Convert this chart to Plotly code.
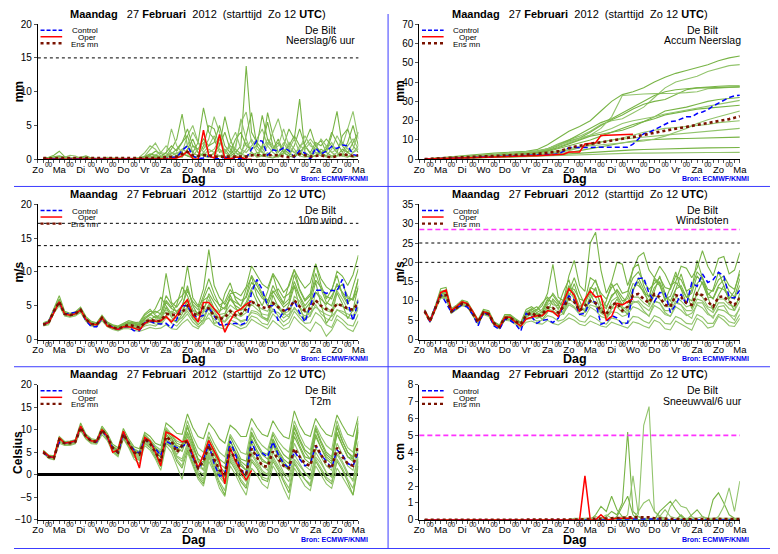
"""EPS pluimen De Bilt, 27 februari 2012 (ECMWF/KNMI) - six panel meteogram."""

import plotly.graph_objects as go

W, H = 778, 554
OFF = 8  # the page body keeps an 8 px margin, so the figure starts at (8, 8)
FONT = "Liberation Sans, Arial, sans-serif"

DAY_LABELS = ["Zo", "Ma", "Di", "Wo", "Do", "Vr", "Za", "Zo",
              "Ma", "Di", "Wo", "Do", "Vr", "Za", "Zo", "Ma"]
MIDNIGHT_LABEL = "00"
TITLE = "<b>Maandag</b>   27 <b>Februari</b>  2012  (starttijd  Zo 12 <b>UTC</b>)"
STATION = "De Bilt"
SOURCE = "Bron: ECMWF/KNMI"

STEP_6H = 0.25   # days
STEP_12H = 0.5

# ---------------------------------------------------------------- neerslag / 6 uur
PRECIP_OPER = [
    0.1, 0.0, 0.0, 0.0, 0.0, 0.0, 0.0, 0.0, 0.0, 0.0,
    0.0, 0.0, 0.0, 0.0, 0.0, 0.0, 0.0, 0.0, 0.0, 0.0,
    0.0, 0.0, 0.0, 0.0, 0.1, 0.2, 0.5, 1.2, 0.1, 0.0,
    4.3, 0.5, 0.2, 3.7, 0.1, 0.1, 0.3, 0.3, 0.0, 0.0]
PRECIP_CONTROL = [
    0.1, 0.1, 0.0, 0.0, 0.0, 0.1, 0.0, 0.0, 0.0, 0.0,
    0.0, 0.0, 0.0, 0.0, 0.0, 0.0, 0.0, 0.0, 0.0, 0.0,
    0.0, 0.0, 0.0, 0.1, 0.3, 0.3, 1.3, 2.0, 0.5, 0.1,
    0.2, 0.5, 0.1, 0.1, 0.3, 0.1, 0.1, 0.2, 0.2, 1.5,
    2.8, 2.7, 0.6, 1.4, 1.2, 1.7, 1.3, 0.3, 1.3, 0.9,
    0.0, 1.7, 0.8, 1.2, 1.9, 1.6, 2.1, 2.0, 0.7, 0.5]
PRECIP_MEAN = [
    0.2, 0.1, 0.1, 0.2, 0.2, 0.1, 0.1, 0.1, 0.1, 0.2,
    0.2, 0.2, 0.1, 0.1, 0.1, 0.2, 0.2, 0.1, 0.1, 0.1,
    0.2, 0.2, 0.2, 0.3, 0.4, 0.4, 0.8, 1.1, 0.6, 0.5,
    0.6, 0.6, 0.4, 0.4, 0.3, 0.4, 0.3, 0.3, 0.4, 0.6,
    0.6, 0.6, 0.5, 0.5, 0.6, 0.4, 0.3, 0.5, 0.8, 0.6,
    0.4, 0.5, 0.6, 0.4, 0.3, 0.5, 0.8, 0.6, 0.5, 0.6]
PRECIP_MEMBERS = [
    [0.2, 0.3, 0.6, 1.2, 0.4, 0.2, 0.1, 0.3, 0.5, 0.2,
     0.1, 0.0, 0.0, 0.1, 0.2, 0.1, 0.0, 0.0, 0.1, 0.3,
     0.6, 1.2, 0.8, 0.5, 1.5, 3.0, 6.7, 2.0, 1.0, 2.5,
     7.6, 4.0, 3.0, 1.0, 1.5, 0.5, 1.0, 2.0, 13.8, 4.0,
     2.5, 1.5, 6.9, 3.5, 1.0, 2.0, 4.5, 3.0, 8.9, 1.0,
     0.5, 2.0, 2.8, 1.0, 3.5, 7.1, 2.0, 1.0, 2.5, 4.0],
    [0.0, 0.1, 0.2, 0.4, 0.3, 0.6, 0.5, 0.2, 0.1, 0.0,
     0.0, 0.1, 0.3, 0.2, 0.1, 0.0, 0.0, 0.1, 0.2, 0.5,
     1.5, 2.4, 1.0, 0.8, 4.5, 2.0, 1.0, 3.5, 5.0, 2.5,
     1.5, 3.0, 6.3, 4.0, 1.0, 0.5, 2.0, 5.5, 7.0, 2.5,
     1.0, 0.5, 2.0, 4.0, 6.0, 3.0, 1.5, 1.0, 0.5, 2.0,
     3.0, 2.0, 1.0, 0.5, 1.5, 3.5, 2.0, 4.5, 7.1, 3.0],
    [0.1, 0.1, 0.1, 0.2, 0.1, 0.0, 0.0, 0.1, 0.1, 0.2,
     0.2, 0.1, 0.0, 0.0, 0.0, 0.1, 0.1, 0.0, 0.0, 0.1,
     0.3, 0.5, 0.3, 0.2, 0.8, 1.5, 2.5, 3.5, 1.0, 0.5,
     2.0, 5.0, 4.5, 2.0, 6.3, 3.0, 1.0, 0.5, 3.5, 6.9,
     2.0, 1.0, 0.5, 1.5, 3.0, 1.0, 0.5, 2.0, 4.5, 2.0,
     1.0, 2.5, 2.0, 3.0, 2.0, 1.0, 3.5, 4.5, 2.0, 1.0],
    [0.1, 0.0, 0.0, 0.1, 0.2, 0.1, 0.1, 0.0, 0.0, 0.0,
     0.1, 0.2, 0.1, 0.0, 0.0, 0.0, 0.1, 0.2, 0.1, 0.0,
     0.1, 0.2, 0.4, 0.3, 0.5, 1.0, 0.8, 0.5, 2.0, 1.0,
     0.5, 1.5, 1.0, 0.5, 0.8, 2.5, 4.0, 1.5, 1.0, 2.0,
     3.0, 4.5, 2.0, 1.0, 0.5, 0.8, 1.5, 3.0, 1.0, 0.5,
     0.5, 1.0, 0.8, 1.5, 2.5, 1.0, 0.5, 1.0, 1.5, 4.0],
    [0.1, 0.2, 0.1, 0.1, 0.0, 0.0, 0.2, 0.3, 0.2, 0.1,
     0.0, 0.0, 0.1, 0.1, 0.0, 0.0, 0.0, 0.0, 0.1, 0.2,
     0.5, 0.3, 0.1, 0.5, 1.0, 0.5, 0.3, 1.5, 3.0, 1.0,
     0.5, 0.3, 1.0, 2.0, 4.0, 1.5, 0.5, 0.2, 0.5, 1.0,
     0.5, 2.0, 5.5, 2.0, 0.5, 1.0, 0.5, 0.3, 1.0, 2.0,
     0.8, 0.5, 1.5, 1.0, 0.5, 0.5, 1.5, 1.0, 0.5, 0.5],
    [0.1, 0.1, 0.2, 0.3, 0.1, 0.1, 0.0, 0.0, 0.1, 0.1,
     0.0, 0.0, 0.0, 0.1, 0.1, 0.2, 0.1, 0.0, 0.0, 0.0,
     0.2, 0.1, 0.3, 0.6, 0.4, 0.2, 0.8, 0.5, 0.3, 0.2,
     1.0, 0.5, 0.8, 1.5, 0.5, 0.3, 0.5, 1.0, 2.5, 1.0,
     0.3, 0.5, 1.0, 0.5, 0.3, 0.8, 2.5, 1.5, 0.5, 0.3,
     0.5, 1.5, 0.8, 0.3, 0.5, 1.0, 0.5, 0.3, 1.0, 2.0],
    [0.0, 0.0, 0.1, 0.1, 0.0, 0.0, 0.0, 0.1, 0.0, 0.0,
     0.0, 0.0, 0.0, 0.0, 0.0, 0.0, 0.0, 0.0, 0.0, 0.0,
     0.0, 0.0, 0.1, 0.2, 0.2, 0.5, 1.0, 0.5, 0.2, 0.5,
     0.8, 0.5, 0.2, 0.5, 0.3, 0.8, 1.5, 0.8, 0.5, 0.5,
     1.0, 0.5, 0.3, 0.2, 0.5, 1.5, 0.8, 0.5, 1.0, 0.5,
     0.3, 0.5, 1.0, 0.5, 0.3, 0.5, 0.8, 0.5, 0.3, 0.5],
    [0.2, 0.1, 0.1, 0.1, 0.2, 0.2, 0.1, 0.1, 0.1, 0.1,
     0.2, 0.1, 0.1, 0.1, 0.0, 0.1, 0.1, 0.1, 0.1, 0.1,
     0.3, 0.6, 1.0, 2.0, 1.0, 0.5, 1.5, 2.0, 4.0, 2.5,
     1.0, 2.0, 3.5, 1.5, 1.0, 2.0, 1.5, 6.0, 3.0, 1.0,
     0.5, 1.5, 3.0, 2.0, 1.0, 2.5, 1.0, 0.5, 2.0, 1.5,
     2.5, 1.0, 0.5, 2.0, 1.0, 0.5, 0.5, 2.0, 3.0, 1.5],
    [0.1, 0.2, 0.3, 0.5, 0.3, 0.2, 0.1, 0.1, 0.2, 0.1,
     0.0, 0.1, 0.1, 0.0, 0.1, 0.1, 0.1, 0.0, 0.1, 0.4,
     0.8, 0.6, 0.4, 1.0, 2.0, 1.2, 2.5, 4.5, 2.0, 1.5,
     3.0, 2.0, 2.5, 5.0, 2.0, 1.0, 3.0, 4.0, 2.0, 1.5,
     2.0, 6.5, 3.0, 1.5, 2.5, 1.0, 2.0, 3.5, 2.0, 2.5,
     4.5, 2.0, 1.0, 1.5, 4.0, 2.5, 1.0, 2.5, 5.0, 2.0],
    [0.1, 0.1, 0.2, 0.2, 0.1, 0.3, 0.2, 0.1, 0.0, 0.1,
     0.1, 0.0, 0.0, 0.2, 0.1, 0.0, 0.0, 0.1, 0.3, 1.0,
     2.0, 1.5, 0.5, 0.3, 1.0, 0.8, 1.5, 1.0, 0.5, 1.5,
     2.5, 1.0, 1.5, 3.0, 1.0, 2.0, 1.0, 0.5, 1.5, 3.0,
     1.5, 1.0, 2.5, 1.5, 2.0, 4.5, 2.0, 1.0, 1.5, 3.5,
     2.0, 1.5, 3.0, 2.0, 1.0, 1.5, 2.5, 1.5, 1.0, 1.5],
]
PRECIP_DOTTED = [15]

# ---------------------------------------------------------------- accumulated
ACCUM_OPER = [
    0.1, 0.2, 0.3, 0.4, 0.5, 0.6, 0.7, 0.8, 0.9, 1.0,
    1.0, 1.1, 1.2, 1.3, 1.4, 1.5, 1.5, 1.6, 1.6, 1.7,
    1.8, 1.8, 1.9, 2.0, 2.1, 2.3, 2.6, 3.8, 3.8, 3.8,
    7.9, 8.4, 8.6, 12.3, 12.4, 12.5, 12.8, 13.0, 13.0, 13.0]
ACCUM_CONTROL = [
    0.1, 0.2, 0.3, 0.4, 0.5, 0.6, 0.7, 0.8, 0.9, 1.0,
    1.1, 1.2, 1.3, 1.4, 1.5, 1.5, 1.6, 1.7, 1.8, 1.9,
    2.0, 2.0, 2.1, 2.2, 2.5, 2.8, 4.1, 6.1, 6.1, 6.2,
    6.2, 6.3, 6.3, 6.3, 6.3, 6.3, 6.3, 6.3, 6.3, 7.8,
    10.6, 13.3, 13.9, 15.3, 16.5, 18.2, 19.5, 19.8, 21.1, 22.0,
    22.0, 23.7, 24.5, 25.7, 27.6, 29.2, 30.8, 32.0, 32.8, 33.2]
ACCUM_MEAN = [
    0.1, 0.3, 0.4, 0.6, 0.7, 0.8, 0.9, 1.0, 1.2, 1.3,
    1.4, 1.5, 1.6, 1.7, 1.8, 1.9, 2.1, 2.2, 2.3, 2.4,
    2.6, 2.8, 3.0, 3.3, 3.7, 4.1, 4.9, 6.0, 6.5, 7.0,
    7.6, 8.1, 8.5, 8.8, 9.2, 9.6, 10.0, 10.5, 11.0, 11.5,
    12.1, 12.7, 13.2, 13.8, 14.3, 14.8, 15.3, 15.8, 16.3, 16.7,
    17.1, 17.5, 18.0, 18.5, 19.0, 19.6, 20.2, 20.8, 21.5, 22.3]
ACCUM_MEMBERS = [  # 12-hourly
    [0.4, 0.9, 1.4, 1.9, 2.4, 2.8, 3.2, 3.5, 3.8, 4.2,
     5.0, 7.5, 11.0, 14.5, 17.0, 20.0, 25.0, 30.0, 33.5, 35.0,
     37.0, 40.0, 42.5, 44.5, 46.0, 47.5, 49.0, 51.0, 52.5, 53.5],
    [0.3, 0.7, 1.1, 1.6, 2.0, 2.4, 2.7, 3.0, 3.3, 3.8,
     4.5, 5.5, 8.0, 10.0, 12.0, 14.5, 18.0, 20.0, 21.0, 24.0,
     27.0, 32.0, 37.0, 40.0, 41.5, 43.0, 45.5, 47.0, 48.5, 49.0],
    [0.2, 0.5, 0.8, 1.2, 1.5, 1.8, 2.1, 2.4, 2.8, 3.2,
     3.8, 5.0, 7.0, 9.5, 11.0, 14.0, 17.5, 20.5, 23.0, 26.0,
     28.5, 30.0, 31.0, 33.5, 36.0, 37.0, 37.5, 37.8, 38.0, 38.0],
    [0.3, 0.6, 0.9, 1.2, 1.6, 2.0, 2.3, 2.6, 2.9, 3.2,
     3.5, 4.5, 6.5, 8.5, 10.5, 12.5, 16.0, 22.0, 33.0, 33.5,
     33.8, 34.0, 34.0, 34.2, 34.5, 35.0, 36.5, 37.0, 37.2, 37.5],
    [0.2, 0.4, 0.7, 1.0, 1.3, 1.6, 1.9, 2.2, 2.5, 2.8,
     3.2, 4.0, 5.5, 7.0, 8.5, 10.0, 12.0, 14.0, 16.0, 18.0,
     19.5, 21.0, 23.0, 24.0, 25.0, 26.0, 26.5, 27.0, 27.5, 28.0],
    [0.1, 0.3, 0.5, 0.8, 1.0, 1.2, 1.4, 1.6, 1.8, 2.0,
     2.4, 3.0, 4.0, 5.0, 6.0, 7.5, 9.0, 10.0, 11.0, 12.5,
     14.0, 15.0, 16.0, 16.5, 17.0, 17.5, 18.0, 19.0, 19.5, 20.0],
    [0.1, 0.2, 0.4, 0.6, 0.8, 1.0, 1.2, 1.4, 1.6, 1.8,
     2.0, 2.5, 3.0, 3.5, 4.5, 5.5, 6.5, 7.5, 8.5, 9.5,
     10.0, 10.3, 10.5, 10.7, 10.8, 10.9, 11.0, 11.0, 11.2, 11.5],
    [0.1, 0.2, 0.3, 0.4, 0.5, 0.6, 0.8, 1.0, 1.2, 1.4,
     1.6, 1.8, 2.0, 2.3, 2.5, 2.7, 2.9, 3.0, 3.1, 3.2,
     3.2, 3.3, 3.3, 3.4, 3.4, 3.5, 3.5, 3.5, 3.6, 3.6],
    [0.2, 0.5, 0.8, 1.1, 1.4, 1.7, 2.0, 2.3, 2.6, 3.0,
     3.5, 4.5, 6.0, 8.0, 10.0, 12.0, 13.0, 14.0, 15.0, 17.0,
     19.5, 22.0, 25.0, 26.0, 27.0, 28.5, 30.0, 31.0, 31.5, 32.0],
    [0.2, 0.4, 0.6, 0.9, 1.2, 1.5, 1.7, 2.0, 2.2, 2.5,
     2.8, 3.5, 4.5, 5.5, 6.5, 7.0, 7.5, 8.0, 8.5, 9.0,
     9.5, 10.5, 12.0, 14.0, 16.0, 18.5, 20.5, 22.0, 23.5, 25.0],
    [0.2, 0.5, 0.9, 1.3, 1.7, 2.1, 2.4, 2.7, 3.0, 3.4,
     4.0, 5.5, 7.5, 10.0, 13.0, 16.0, 19.0, 21.0, 24.0, 27.0,
     30.0, 33.0, 35.0, 36.0, 36.5, 37.0, 37.0, 37.2, 37.4, 37.5],
    [0.2, 0.4, 0.6, 0.8, 1.0, 1.2, 1.4, 1.6, 1.8, 2.0,
     2.3, 2.8, 3.5, 4.5, 6.0, 7.5, 9.0, 10.0, 10.5, 11.0,
     11.5, 12.0, 12.5, 13.0, 13.5, 14.0, 14.5, 15.0, 15.5, 16.0],
    [0.1, 0.2, 0.3, 0.5, 0.6, 0.8, 1.0, 1.2, 1.4, 1.6,
     1.8, 2.0, 2.4, 2.8, 3.2, 3.6, 4.0, 4.3, 4.6, 4.9,
     5.1, 5.3, 5.5, 5.6, 5.7, 5.8, 5.9, 6.0, 6.0, 6.1],
    [0.3, 0.6, 1.0, 1.4, 1.8, 2.2, 2.5, 2.8, 3.1, 3.5,
     4.2, 5.5, 7.5, 9.0, 11.0, 12.5, 14.0, 16.0, 18.5, 20.0,
     21.0, 22.0, 23.5, 24.5, 25.5, 26.5, 27.5, 28.5, 29.5, 30.5],
]

# ---------------------------------------------------------------- 10 m wind
WIND_OPER = [
    2.3, 2.5, 4.0, 5.6, 3.8, 3.6, 3.8, 4.4, 3.0, 2.3,
    2.2, 3.3, 2.0, 1.8, 1.5, 1.9, 1.9, 1.7, 1.4, 2.4,
    2.8, 2.7, 2.8, 3.4, 2.6, 3.6, 5.0, 5.9, 3.6, 2.6,
    5.5, 5.5, 4.6, 3.6, 1.1, 2.8, 4.1, 4.5, 5.2, 5.7]
WIND_CONTROL = [
    2.2, 2.6, 4.2, 5.5, 3.8, 3.9, 4.0, 4.4, 2.8, 1.9,
    1.9, 3.2, 2.3, 1.8, 1.5, 1.9, 1.9, 1.3, 1.3, 2.5,
    2.7, 2.4, 2.3, 2.4, 1.7, 3.0, 5.0, 5.0, 3.6, 3.3,
    3.6, 4.8, 3.6, 2.2, 2.2, 2.3, 2.4, 2.2, 2.5, 7.0,
    8.9, 7.4, 5.0, 5.0, 2.8, 4.2, 4.6, 5.7, 4.0, 2.6,
    5.0, 7.3, 7.3, 6.8, 7.3, 7.2, 8.9, 5.5, 2.8, 5.8]
WIND_MEAN = [
    2.2, 2.5, 4.2, 5.6, 3.8, 3.6, 3.8, 4.4, 3.0, 2.3,
    2.2, 3.2, 2.2, 1.8, 1.6, 1.9, 2.2, 2.0, 1.8, 2.5,
    3.0, 2.7, 2.8, 3.8, 3.7, 3.6, 4.0, 5.0, 3.8, 3.6,
    4.8, 4.6, 3.5, 3.0, 3.3, 4.2, 3.6, 3.8, 4.5, 5.6,
    5.2, 4.8, 4.6, 5.4, 4.8, 4.3, 4.5, 5.8, 4.9, 4.3,
    4.6, 5.8, 5.0, 4.5, 4.3, 5.3, 5.0, 4.6, 4.4, 5.5]
WIND_MEMBERS = [
    [2.5, 2.8, 4.6, 6.5, 4.2, 3.9, 4.1, 4.8, 3.4, 2.7,
     2.5, 3.6, 2.6, 2.2, 2.0, 2.4, 2.8, 2.6, 2.4, 3.6,
     4.2, 3.9, 4.5, 9.8, 5.5, 4.8, 6.0, 10.9, 6.2, 5.0,
     7.5, 13.3, 8.0, 6.2, 5.2, 6.8, 7.0, 6.5, 7.8, 10.9,
     9.5, 8.2, 7.6, 9.8, 8.5, 7.0, 7.9, 10.3, 8.8, 7.6,
     8.4, 11.2, 9.0, 7.8, 7.2, 10.1, 9.4, 8.0, 9.6, 12.5],
    [2.0, 2.2, 3.9, 5.0, 3.5, 3.3, 3.5, 4.0, 2.7, 2.0,
     1.9, 2.8, 1.9, 1.5, 1.3, 1.6, 1.6, 1.4, 1.2, 1.5,
     1.8, 1.6, 1.7, 2.2, 1.6, 1.5, 2.4, 3.0, 2.0, 1.6,
     2.8, 3.2, 2.2, 1.8, 1.5, 2.4, 2.0, 1.6, 1.9, 3.0,
     2.5, 2.0, 1.6, 2.8, 2.2, 1.5, 1.8, 3.4, 2.5, 1.8,
     1.2, 2.6, 2.0, 0.5, 1.4, 3.0, 2.4, 1.6, 1.2, 2.8],
    [2.3, 2.6, 4.3, 5.8, 3.9, 3.7, 3.9, 4.5, 3.1, 2.4,
     2.3, 3.3, 2.4, 2.0, 1.9, 2.3, 2.6, 2.5, 2.6, 3.8,
     4.5, 3.6, 3.2, 5.5, 4.6, 4.2, 5.0, 7.2, 5.6, 4.8,
     6.0, 7.8, 6.0, 5.1, 5.6, 7.4, 6.3, 5.8, 6.2, 8.5,
     7.2, 6.1, 5.5, 8.0, 6.4, 5.2, 6.0, 9.6, 7.3, 5.7,
     6.5, 8.8, 7.7, 6.4, 6.0, 8.3, 7.0, 6.1, 5.9, 7.6],
    [2.1, 2.4, 4.1, 5.4, 3.7, 3.5, 3.7, 4.2, 2.9, 2.2,
     2.1, 3.0, 2.1, 1.7, 1.5, 1.8, 2.0, 1.8, 1.6, 2.2,
     2.6, 2.3, 2.2, 3.2, 2.9, 2.6, 3.3, 4.2, 3.1, 2.6,
     3.5, 4.5, 3.6, 2.8, 2.6, 3.5, 3.2, 2.8, 3.0, 4.0,
     3.8, 3.2, 2.8, 4.6, 3.5, 2.6, 3.2, 4.8, 3.6, 3.0,
     3.5, 5.2, 3.8, 3.1, 2.8, 4.4, 3.9, 3.3, 3.0, 4.6],
    [2.2, 2.5, 4.2, 5.7, 3.8, 3.6, 3.8, 4.3, 3.0, 2.3,
     2.2, 3.1, 2.3, 1.9, 1.7, 2.1, 2.4, 2.3, 2.2, 3.1,
     3.6, 4.6, 6.3, 5.0, 3.8, 5.2, 7.8, 6.5, 4.4, 3.9,
     5.8, 6.4, 4.6, 4.0, 6.8, 8.4, 5.9, 4.9, 7.5, 9.3,
     6.4, 5.0, 7.1, 9.6, 6.8, 5.4, 8.2, 10.4, 7.5, 5.9,
     6.8, 11.2, 8.1, 6.0, 7.4, 9.5, 6.6, 5.2, 7.8, 10.5],
    [2.2, 2.4, 4.0, 5.5, 3.8, 3.5, 3.7, 4.4, 3.0, 2.3,
     2.1, 3.3, 2.1, 1.7, 1.6, 1.8, 2.1, 1.9, 1.7, 2.8,
     3.3, 2.8, 3.5, 4.4, 3.9, 3.2, 4.4, 5.6, 4.2, 3.6,
     4.6, 5.9, 4.5, 3.7, 3.9, 5.1, 4.5, 4.3, 4.8, 5.8,
     5.0, 4.5, 4.2, 5.5, 4.6, 3.8, 4.2, 5.9, 4.8, 4.0,
     4.5, 5.8, 4.9, 4.3, 4.0, 5.3, 4.9, 4.4, 4.2, 5.6],
    [2.3, 2.5, 4.3, 5.6, 3.9, 3.6, 3.9, 4.4, 3.0, 2.4,
     2.3, 3.2, 2.3, 1.8, 1.7, 2.0, 2.3, 2.1, 2.0, 2.7,
     2.9, 3.5, 3.0, 4.8, 3.3, 2.5, 3.8, 6.0, 3.1, 2.2,
     3.0, 4.8, 2.4, 2.6, 3.6, 6.6, 4.8, 3.4, 4.9, 7.3,
     5.6, 3.4, 3.0, 6.6, 4.8, 3.6, 5.2, 7.9, 4.8, 2.9,
     5.4, 8.5, 5.2, 2.4, 3.6, 6.9, 5.3, 3.1, 4.4, 8.0],
    [2.1, 2.5, 4.1, 5.5, 3.7, 3.6, 3.8, 4.5, 3.0, 2.3,
     2.2, 3.1, 2.2, 1.8, 1.6, 1.9, 2.0, 1.8, 1.7, 2.4,
     2.6, 3.0, 3.3, 4.1, 3.5, 3.1, 3.2, 4.6, 3.7, 2.9,
     2.8, 5.1, 4.2, 3.0, 2.7, 4.0, 3.4, 2.6, 2.9, 4.3,
     4.1, 3.4, 2.7, 5.6, 5.1, 4.0, 3.3, 6.4, 5.7, 4.2,
     3.5, 7.0, 6.4, 4.8, 4.1, 7.2, 6.0, 4.5, 4.3, 6.1],
    [2.2, 2.6, 4.4, 6.0, 4.0, 3.7, 3.9, 4.6, 3.2, 2.5,
     2.4, 3.4, 2.5, 2.1, 1.8, 2.2, 2.5, 2.3, 2.1, 3.0,
     3.8, 4.2, 3.8, 6.5, 5.2, 4.0, 4.8, 8.0, 5.0, 3.6,
     4.2, 6.8, 5.5, 4.2, 4.8, 6.0, 5.0, 4.5, 5.5, 7.6,
     8.5, 6.8, 5.8, 7.2, 6.0, 4.8, 5.5, 8.6, 6.5, 5.0,
     6.0, 9.8, 7.5, 5.5, 5.0, 7.4, 8.2, 6.4, 5.8, 9.0],
    [2.1, 2.4, 4.0, 5.3, 3.6, 3.4, 3.6, 4.1, 2.8, 2.1,
     2.0, 2.9, 2.0, 1.6, 1.4, 1.7, 1.8, 1.6, 1.5, 2.0,
     2.2, 2.0, 2.6, 3.6, 2.4, 2.0, 2.9, 3.8, 2.6, 1.9,
     2.4, 3.9, 3.0, 2.2, 2.0, 2.9, 2.6, 2.0, 2.4, 3.5,
     3.2, 2.4, 2.2, 3.8, 3.0, 2.0, 2.5, 4.2, 3.2, 2.4,
     2.5, 4.0, 3.4, 2.2, 1.8, 3.6, 3.0, 2.2, 2.0, 3.8],
    [2.3, 2.7, 4.4, 5.9, 4.0, 3.8, 4.0, 4.6, 3.2, 2.5,
     2.4, 3.4, 2.4, 2.0, 1.8, 2.1, 2.5, 2.4, 2.3, 3.3,
     3.8, 3.2, 3.8, 5.8, 4.8, 5.8, 6.5, 7.5, 5.2, 4.4,
     6.5, 9.0, 6.8, 5.0, 4.5, 6.0, 5.5, 5.0, 6.5, 9.5,
     8.0, 6.5, 5.0, 7.0, 7.5, 6.2, 6.8, 8.0, 6.2, 4.5,
     5.5, 7.0, 6.0, 5.2, 6.5, 8.0, 7.0, 5.5, 6.2, 9.0],
    [2.2, 2.4, 4.1, 5.6, 3.8, 3.6, 3.8, 4.3, 2.9, 2.3,
     2.2, 3.1, 2.2, 1.8, 1.6, 1.9, 2.2, 2.0, 1.8, 2.6,
     3.0, 2.6, 2.4, 3.6, 4.2, 3.8, 4.0, 4.8, 3.4, 3.0,
     4.0, 5.2, 3.8, 3.2, 3.6, 4.5, 3.8, 3.4, 4.0, 5.2,
     4.5, 3.8, 3.6, 4.2, 4.0, 3.2, 3.8, 4.6, 4.0, 3.5,
     4.0, 4.8, 4.2, 3.7, 3.4, 4.4, 4.2, 3.8, 3.6, 4.8],
]
WIND_DOTTED = [10.8, 13.9, 17.2]

# ---------------------------------------------------------------- windstoten
GUST_OPER = [
    7.5, 4.8, 8.0, 12.2, 12.8, 7.5, 8.6, 9.8, 9.3, 7.3,
    4.8, 7.2, 6.8, 4.0, 3.2, 5.8, 5.8, 4.5, 3.5, 5.3,
    5.8, 6.2, 6.2, 7.5, 7.2, 6.0, 9.8, 13.2, 11.5, 7.2,
    10.5, 12.6, 11.0, 11.3, 5.0, 6.0, 9.4, 9.0, 9.8, 10.6]
GUST_CONTROL = [
    7.5, 4.6, 8.5, 11.8, 9.5, 7.0, 8.2, 9.0, 8.4, 6.5,
    3.6, 7.0, 6.4, 3.5, 2.6, 5.3, 5.0, 4.0, 2.2, 6.8,
    6.0, 4.2, 5.0, 5.2, 4.4, 5.5, 9.0, 11.3, 10.2, 6.5,
    6.8, 10.3, 9.6, 4.0, 4.5, 6.2, 5.6, 4.0, 4.3, 13.0,
    15.8, 16.0, 12.0, 9.8, 12.2, 12.0, 7.0, 9.0, 11.8, 9.0,
    14.7, 13.8, 17.0, 14.8, 15.5, 17.4, 16.5, 11.0, 10.8, 12.8]
GUST_MEAN = [
    7.3, 4.8, 8.2, 11.3, 11.5, 7.3, 8.2, 9.3, 9.0, 6.8,
    4.5, 7.0, 6.6, 4.2, 3.3, 5.6, 5.7, 4.7, 4.0, 6.3,
    7.0, 6.0, 6.5, 8.3, 8.2, 7.0, 8.5, 10.5, 9.8, 7.5,
    8.8, 10.0, 9.5, 7.5, 6.5, 9.0, 9.5, 7.5, 8.5, 11.5,
    11.8, 10.5, 9.5, 11.8, 11.0, 9.0, 8.5, 11.5, 11.0, 9.5,
    9.0, 12.0, 11.5, 9.8, 8.5, 11.0, 11.2, 9.8, 9.0, 10.8]
GUST_MEMBERS = [
    [7.8, 5.2, 8.8, 13.2, 13.5, 8.0, 9.0, 10.2, 9.8, 7.6,
     5.2, 7.8, 7.5, 4.6, 3.8, 6.5, 6.5, 5.4, 4.5, 7.8,
     8.5, 7.5, 8.8, 12.0, 19.5, 11.0, 10.0, 16.5, 20.5, 14.0,
     12.5, 25.0, 27.8, 18.0, 12.0, 15.0, 20.0, 19.5, 14.0, 18.0,
     21.5, 22.5, 18.0, 16.0, 19.0, 17.0, 14.0, 15.0, 19.0, 18.5,
     16.0, 18.5, 23.0, 19.0, 16.5, 21.0, 21.5, 17.0, 18.0, 22.5],
    [7.0, 4.4, 7.6, 10.8, 10.5, 6.8, 7.8, 8.8, 8.4, 6.2,
     4.0, 6.5, 6.0, 3.6, 2.8, 5.0, 4.8, 4.0, 3.0, 4.5,
     4.8, 4.2, 4.0, 5.0, 4.2, 3.8, 4.6, 5.6, 5.0, 4.0,
     3.6, 4.8, 4.2, 3.5, 3.2, 4.5, 4.0, 3.4, 3.0, 4.6,
     4.2, 3.5, 3.0, 5.0, 4.4, 2.8, 2.5, 4.8, 4.0, 3.0,
     2.4, 5.5, 4.6, 3.0, 3.4, 6.0, 5.0, 3.6, 3.4, 5.5],
    [7.4, 4.8, 8.3, 11.8, 12.2, 7.5, 8.4, 9.6, 9.2, 7.0,
     4.6, 7.2, 6.8, 4.3, 3.4, 5.8, 5.9, 4.8, 4.2, 6.8,
     7.5, 6.5, 7.2, 10.2, 9.8, 8.0, 10.5, 14.0, 12.0, 8.5,
     9.6, 13.5, 12.8, 9.2, 8.0, 11.5, 12.5, 10.0, 10.6, 14.5,
     14.0, 12.5, 11.0, 15.5, 14.0, 10.5, 11.2, 14.8, 13.2, 11.0,
     12.0, 16.5, 14.5, 11.0, 10.8, 14.0, 15.5, 12.5, 11.0, 15.8],
    [7.2, 4.7, 8.0, 11.0, 11.2, 7.2, 8.1, 9.2, 8.8, 6.6,
     4.3, 6.8, 6.4, 4.0, 3.2, 5.4, 5.5, 4.6, 3.8, 6.0,
     6.4, 5.5, 6.0, 7.5, 7.0, 6.0, 6.8, 9.0, 8.2, 6.5,
     6.0, 8.4, 7.5, 6.0, 5.5, 7.2, 7.0, 6.0, 6.5, 8.5,
     8.0, 7.0, 6.2, 8.8, 8.0, 6.5, 6.0, 8.5, 7.6, 6.2,
     6.8, 9.0, 8.2, 6.5, 6.0, 7.8, 7.5, 6.5, 6.0, 8.0],
    [7.5, 4.9, 8.4, 12.0, 12.0, 7.4, 8.5, 9.5, 9.1, 6.9,
     4.5, 7.1, 6.7, 4.2, 3.3, 5.7, 5.8, 4.7, 4.0, 6.4,
     7.0, 7.8, 9.5, 11.0, 9.0, 8.8, 12.5, 15.5, 10.0, 7.5,
     9.8, 12.0, 9.0, 7.2, 10.0, 14.5, 11.5, 9.0, 11.5, 18.5,
     19.5, 14.0, 11.0, 16.0, 14.5, 10.0, 13.5, 17.5, 13.0, 9.5,
     13.0, 20.5, 16.0, 11.5, 13.0, 17.5, 14.0, 10.5, 12.5, 18.0],
    [7.3, 4.8, 8.2, 11.4, 11.6, 7.3, 8.3, 9.4, 9.0, 6.8,
     4.4, 7.0, 6.6, 4.1, 3.3, 5.6, 5.7, 4.7, 4.0, 6.2,
     6.8, 6.0, 6.5, 8.5, 8.2, 7.0, 8.0, 10.5, 9.5, 7.5,
     8.0, 10.0, 9.2, 7.0, 7.0, 9.0, 9.5, 8.0, 8.5, 11.0,
     11.0, 9.5, 8.5, 11.5, 10.5, 8.5, 8.5, 11.0, 10.0, 8.5,
     9.0, 12.0, 11.0, 8.5, 8.0, 10.5, 10.5, 9.0, 8.5, 11.0],
    [7.1, 4.6, 7.9, 11.2, 11.0, 7.1, 8.0, 9.1, 8.7, 6.5,
     4.2, 6.8, 6.3, 3.9, 3.1, 5.3, 5.2, 4.3, 3.6, 5.5,
     5.8, 6.8, 5.2, 7.0, 10.5, 9.0, 6.5, 11.0, 14.5, 10.0,
     7.0, 10.5, 13.5, 8.5, 5.5, 8.0, 10.5, 8.0, 6.5, 12.5,
     16.0, 13.0, 9.0, 12.5, 16.5, 12.0, 8.5, 13.0, 17.0, 12.5,
     8.0, 12.0, 15.0, 11.0, 7.5, 11.5, 14.0, 10.0, 7.5, 12.0],
    [7.4, 4.9, 8.1, 11.6, 11.8, 7.4, 8.2, 9.3, 9.0, 6.7,
     4.5, 7.0, 6.6, 4.2, 3.4, 5.6, 5.6, 4.6, 4.0, 6.5,
     7.2, 5.8, 6.2, 9.0, 10.0, 7.8, 7.0, 12.0, 11.0, 8.0,
     7.5, 11.5, 11.0, 7.5, 6.5, 10.0, 11.0, 8.5, 7.5, 10.0,
     9.5, 7.5, 6.0, 9.8, 9.5, 7.0, 6.0, 9.5, 9.0, 6.5,
     5.5, 9.5, 9.5, 7.0, 5.5, 8.5, 8.8, 6.5, 5.0, 8.5],
    [7.6, 5.0, 8.5, 12.5, 12.8, 7.7, 8.7, 9.9, 9.5, 7.3,
     4.9, 7.5, 7.1, 4.4, 3.6, 6.1, 6.2, 5.1, 4.3, 7.2,
     8.0, 7.0, 7.8, 10.5, 11.5, 9.5, 9.0, 13.5, 13.0, 10.5,
     10.0, 16.0, 15.0, 12.0, 10.5, 13.5, 14.5, 12.0, 12.5, 16.0,
     17.5, 15.0, 13.0, 14.5, 16.0, 13.5, 13.0, 16.5, 15.5, 12.5,
     13.5, 17.5, 16.0, 13.0, 12.5, 15.5, 16.5, 14.0, 13.0, 17.0],
    [7.2, 4.6, 7.8, 11.0, 10.8, 7.0, 8.0, 9.0, 8.6, 6.4,
     4.2, 6.7, 6.2, 3.8, 3.0, 5.2, 5.0, 4.2, 3.4, 5.2,
     5.5, 4.8, 5.0, 6.2, 5.8, 4.8, 5.2, 6.8, 6.0, 4.8,
     4.5, 6.2, 5.5, 4.4, 4.0, 5.6, 5.2, 4.4, 4.2, 6.0,
     5.8, 4.8, 4.2, 6.2, 5.6, 4.2, 4.0, 6.0, 5.4, 4.2,
     4.0, 6.5, 5.8, 4.2, 4.2, 6.5, 6.0, 4.6, 4.2, 6.5],
    [7.5, 4.8, 8.3, 12.0, 12.5, 7.6, 8.4, 9.7, 9.3, 7.1,
     4.7, 7.3, 6.9, 4.4, 3.5, 5.9, 6.0, 5.0, 4.3, 7.0,
     7.8, 8.5, 7.0, 9.5, 12.0, 10.0, 8.5, 12.5, 16.0, 12.0,
     9.0, 13.0, 15.5, 11.0, 8.5, 11.0, 13.0, 11.0, 9.5, 13.0,
     15.0, 12.0, 10.0, 13.5, 15.0, 11.5, 10.0, 13.0, 14.0, 11.0,
     10.0, 14.5, 16.0, 12.0, 10.5, 13.5, 13.0, 11.0, 10.5, 14.0],
    [7.3, 4.7, 8.1, 11.5, 11.5, 7.3, 8.2, 9.3, 8.9, 6.7,
     4.4, 6.9, 6.5, 4.1, 3.2, 5.5, 5.6, 4.6, 3.9, 6.0,
     6.5, 5.5, 6.8, 8.0, 7.5, 6.5, 7.5, 9.5, 8.5, 6.8,
     7.0, 9.0, 8.5, 6.8, 6.0, 8.0, 8.5, 7.0, 7.5, 9.5,
     10.0, 8.5, 7.5, 10.0, 9.5, 7.5, 7.5, 10.0, 9.0, 7.5,
     7.5, 10.5, 10.0, 8.0, 7.0, 9.5, 9.5, 8.0, 7.5, 10.0],
]
GUST_DOTTED = [20, 25]
GUST_WARNING = [28.5]

# ---------------------------------------------------------------- T2m
T2M_OPER = [
    5.2, 4.2, 3.8, 8.2, 7.0, 7.2, 7.5, 10.8, 8.5, 7.5,
    7.5, 10.0, 8.6, 5.0, 5.5, 9.7, 6.8, 4.8, 1.5, 8.3,
    7.5, 5.0, 2.0, 9.5, 9.0, 8.2, 7.3, 7.7, 4.5, 1.5,
    4.5, 7.6, 5.3, 3.0, -2.0, 6.0, 3.0, 1.0, -1.2, 1.0]
T2M_CONTROL = [
    5.0, 4.0, 3.9, 7.2, 7.0, 7.3, 7.5, 10.6, 8.6, 7.5,
    7.3, 9.8, 8.3, 6.0, 4.8, 9.3, 7.0, 5.5, 4.8, 7.8,
    7.0, 5.8, 4.3, 7.5, 6.8, 6.0, 6.2, 7.2, 4.0, 1.2,
    3.5, 6.8, 2.5, -0.3, 0.0, 7.5, 4.5, 1.0, 0.0, 7.5,
    4.2, 4.8, 4.0, 7.3, 4.5, 2.5, 1.5, 5.2, 3.5, 2.0,
    2.5, 6.5, 4.5, 3.0, 1.5, 5.5, 4.5, 2.5, 2.0, 5.0]
T2M_MEAN = [
    5.0, 4.0, 3.7, 7.8, 7.0, 7.0, 7.3, 10.5, 8.5, 7.5,
    7.3, 10.0, 8.5, 6.0, 5.0, 9.0, 7.0, 5.0, 4.5, 8.0,
    7.0, 5.0, 3.0, 8.5, 7.5, 5.0, 6.5, 7.5, 4.0, 1.5,
    3.0, 6.5, 3.5, 1.0, 0.2, 5.5, 3.5, 1.0, 0.3, 5.8,
    4.0, 2.0, 1.8, 5.2, 3.5, 2.0, 1.5, 5.8, 4.0, 2.5,
    2.0, 6.5, 4.5, 2.5, 1.5, 6.0, 4.0, 2.5, 2.0, 6.5]
T2M_MEMBERS = [
    [5.5, 4.4, 4.2, 8.5, 7.4, 7.5, 7.8, 11.5, 9.0, 8.0,
     7.8, 10.8, 9.2, 6.8, 6.0, 10.3, 8.0, 6.2, 5.8, 9.4,
     8.5, 7.0, 6.5, 11.5, 10.5, 9.2, 9.0, 13.5, 10.5, 8.5,
     8.0, 11.5, 10.0, 8.0, 7.0, 11.0, 10.0, 8.5, 8.5, 12.5,
     10.5, 9.0, 8.5, 12.0, 10.0, 8.5, 8.0, 14.2, 11.0, 9.0,
     8.5, 12.5, 10.5, 9.0, 8.5, 13.3, 11.0, 9.0, 8.5, 13.0],
    [4.8, 3.6, 3.3, 7.0, 6.5, 6.5, 6.9, 9.8, 7.9, 6.9,
     6.8, 8.9, 7.6, 5.0, 4.0, 8.0, 6.0, 3.5, 2.5, 6.5,
     5.5, 3.5, 1.0, 6.5, 5.0, 2.0, -1.0, 5.0, 2.0, -1.0,
     -2.5, 3.0, 0.5, -3.0, -4.8, 2.0, 0.0, -2.5, -4.5, 1.5,
     0.0, -2.0, -3.0, 2.0, 0.0, -3.0, -5.5, 1.5, -0.5, -2.5,
     -3.5, 2.0, 0.0, -2.0, -3.0, 1.5, -0.5, -2.5, -4.5, 2.0],
    [5.2, 4.1, 3.9, 8.0, 7.1, 7.2, 7.5, 10.8, 8.6, 7.6,
     7.4, 10.2, 8.6, 6.2, 5.2, 9.4, 7.3, 5.3, 4.8, 8.5,
     7.2, 5.8, 4.5, 9.6, 8.3, 6.0, 5.2, 8.5, 6.0, 3.5,
     2.8, 7.8, 5.0, 2.5, 1.5, 7.5, 5.0, 3.0, 2.0, 7.0,
     5.0, 3.0, 2.5, 8.0, 5.5, 3.5, 2.5, 9.5, 6.5, 4.0,
     3.5, 8.5, 6.0, 4.0, 3.0, 9.0, 6.5, 4.0, 3.5, 9.5],
    [5.0, 3.9, 3.6, 7.6, 6.8, 6.9, 7.2, 10.3, 8.3, 7.3,
     7.1, 9.7, 8.2, 5.6, 4.6, 8.6, 6.6, 4.4, 3.8, 7.5,
     6.5, 4.5, 2.5, 7.5, 6.5, 4.0, 3.0, 6.0, 3.0, 0.5,
     -1.0, 4.5, 2.0, -0.5, -2.0, 4.0, 2.0, 0.0, -1.5, 4.5,
     2.5, 0.5, 0.0, 4.0, 2.0, 0.0, -1.5, 3.5, 2.0, 0.5,
     -0.5, 4.0, 2.5, 0.5, -0.5, 4.5, 2.5, 0.0, -1.0, 4.0],
    [5.1, 4.0, 3.8, 7.9, 7.0, 7.1, 7.4, 10.6, 8.5, 7.5,
     7.3, 10.0, 8.4, 6.0, 5.0, 9.0, 7.0, 5.0, 4.5, 8.0,
     7.0, 5.2, 3.8, 8.7, 7.5, 5.5, 6.5, 11.0, 7.0, 3.0,
     1.0, 6.0, 3.5, 1.0, -0.5, 6.5, 4.5, 2.0, 1.0, 9.0,
     6.5, 4.5, 3.5, 7.5, 5.0, 3.0, 1.5, 10.5, 7.5, 5.0,
     3.5, 10.0, 7.0, 4.5, 3.5, 11.0, 7.5, 5.0, 3.5, 10.5],
    [5.3, 4.2, 4.0, 8.2, 7.2, 7.3, 7.6, 11.0, 8.8, 7.7,
     7.5, 10.4, 8.8, 6.4, 5.6, 9.8, 7.6, 5.8, 5.2, 9.0,
     7.8, 6.4, 5.5, 10.5, 9.0, 7.5, 7.0, 12.0, 8.5, 6.0,
     5.0, 9.5, 7.0, 5.0, 4.0, 9.0, 7.0, 5.0, 4.5, 10.5,
     8.0, 6.5, 5.5, 9.5, 7.5, 6.0, 5.0, 12.0, 9.0, 6.5,
     5.5, 11.0, 8.5, 6.5, 5.5, 12.0, 8.5, 6.0, 5.0, 11.5],
    [4.9, 3.8, 3.5, 7.4, 6.7, 6.8, 7.1, 10.0, 8.1, 7.1,
     7.0, 9.4, 7.9, 5.3, 4.3, 8.3, 6.3, 4.0, 3.2, 7.0,
     6.0, 4.0, 1.8, 7.0, 6.0, 3.0, 1.5, 5.5, 2.5, -0.5,
     -2.0, 4.0, 1.0, -2.0, -4.5, 3.0, 1.0, -1.5, -3.0, 3.0,
     1.5, -1.0, -1.5, 3.0, 1.0, -1.5, -4.0, 2.5, 0.5, -1.0,
     -2.5, 3.0, 1.0, -1.0, -2.0, 3.0, 1.0, -1.5, -4.5, 3.0],
    [5.2, 4.0, 3.7, 7.8, 7.0, 7.0, 7.3, 10.5, 8.4, 7.4,
     7.2, 9.9, 8.3, 5.9, 4.9, 8.8, 6.9, 4.8, 4.3, 7.9,
     7.0, 5.0, 3.0, 8.0, 7.0, 4.5, 6.0, 9.0, 5.5, 2.0,
     1.0, 6.0, 3.0, 0.5, -1.0, 5.0, 3.0, 1.0, 0.0, 6.0,
     4.0, 2.0, 1.0, 6.5, 4.0, 2.0, 1.0, 7.0, 4.5, 2.0,
     1.0, 6.0, 4.0, 2.0, 1.0, 7.0, 4.5, 2.0, 1.0, 7.5],
    [5.1, 4.1, 3.9, 8.1, 7.1, 7.2, 7.5, 10.7, 8.6, 7.6,
     7.4, 10.1, 8.5, 6.1, 5.1, 9.2, 7.2, 5.2, 4.7, 8.2,
     7.2, 5.4, 4.0, 9.0, 8.0, 6.5, 6.0, 9.5, 6.5, 3.5,
     2.0, 7.0, 4.5, 2.0, 0.5, 7.5, 5.0, 2.5, 1.0, 8.0,
     5.5, 3.5, 2.5, 7.0, 4.5, 2.5, 1.0, 8.5, 6.0, 3.5,
     2.5, 9.0, 6.0, 3.5, 2.5, 9.5, 6.5, 4.0, 3.0, 10.0],
    [5.0, 3.9, 3.6, 7.5, 6.9, 6.9, 7.2, 10.2, 8.3, 7.3,
     7.1, 9.6, 8.1, 5.7, 4.7, 8.7, 6.7, 4.6, 4.0, 7.6,
     6.6, 4.8, 2.8, 7.8, 6.8, 4.2, 3.5, 7.0, 4.0, 1.0,
     0.0, 5.0, 2.5, 0.0, -1.5, 4.5, 2.5, 0.5, -0.5, 5.0,
     3.0, 1.0, 0.0, 5.0, 3.0, 0.5, -0.5, 4.5, 2.5, 0.5,
     -1.0, 5.0, 3.0, 0.5, -0.5, 5.0, 3.0, 0.5, -1.5, 5.5],
    [5.3, 4.2, 3.9, 8.2, 7.2, 7.3, 7.6, 10.9, 8.7, 7.7,
     7.5, 10.3, 8.7, 6.3, 5.4, 9.6, 7.4, 5.6, 5.0, 8.8,
     7.6, 6.0, 5.0, 10.0, 8.8, 7.0, 6.5, 10.5, 7.5, 4.5,
     3.5, 8.5, 6.0, 3.5, 2.5, 8.5, 6.0, 3.5, 3.0, 9.5,
     7.0, 5.0, 4.5, 9.0, 6.5, 4.5, 3.5, 11.0, 8.0, 5.5,
     4.5, 10.5, 7.5, 5.0, 4.0, 10.5, 7.5, 5.0, 4.0, 12.0],
    [4.9, 3.9, 3.6, 7.6, 6.8, 6.8, 7.1, 10.2, 8.2, 7.2,
     7.1, 9.5, 8.0, 5.5, 4.5, 8.5, 6.5, 4.3, 3.5, 7.2,
     6.3, 4.4, 2.2, 7.2, 6.2, 3.5, 2.0, 6.5, 3.5, 0.0,
     -1.5, 4.0, 1.5, -1.5, -3.5, 3.5, 1.5, -1.0, -2.5, 3.5,
     2.0, -0.5, -1.0, 3.5, 1.5, -1.0, -3.0, 3.0, 1.0, -1.0,
     -2.0, 3.5, 1.5, -0.5, -1.5, 3.5, 1.5, -1.0, -3.0, 3.5],
]

# ---------------------------------------------------------------- sneeuwval / 6 uur
SNOW_OPER = [
    0, 0, 0, 0, 0, 0, 0, 0, 0, 0,
    0, 0, 0, 0, 0, 0, 0, 0, 0, 0,
    0, 0, 0, 0, 0, 0, 0, 0, 0, 0,
    2.6, 0, 0, 0.3, 0, 0.05, 0.1, 0.1, 0.1, 0.1]
SNOW_CONTROL = [
    0, 0, 0, 0, 0, 0, 0, 0, 0, 0,
    0, 0, 0, 0, 0, 0, 0, 0, 0, 0,
    0, 0, 0, 0, 0, 0, 0, 0, 0, 0,
    0, 0, 0, 0, 0, 0, 0.05, 0.05, 0.05, 0.05,
    0.05, 0.05, 0.05, 0.05, 0.05, 0, 0, 0, 0, 0,
    0, 0, 0, 0, 0, 0, 0, 0, 0, 0]
SNOW_MEAN = [
    0, 0, 0, 0, 0, 0, 0, 0, 0, 0,
    0, 0, 0, 0, 0, 0, 0, 0, 0, 0,
    0, 0, 0, 0, 0, 0, 0, 0, 0, 0.02,
    0.05, 0.05, 0.05, 0.08, 0.08, 0.1, 0.1, 0.12, 0.15, 0.15,
    0.12, 0.15, 0.15, 0.1, 0.08, 0.06, 0.05, 0.05, 0.04, 0.04,
    0.05, 0.05, 0.04, 0.04, 0.05, 0.06, 0.05, 0.05, 0.05, 0.05]
SNOW_MEMBERS = [
    [0, 0, 0, 0, 0, 0, 0, 0, 0, 0,
     0, 0, 0, 0, 0, 0, 0, 0, 0, 0,
     0, 0, 0, 0, 0, 0, 0, 0, 0, 0,
     0, 0, 0, 0, 0.2, 0.5, 0.3, 1.0, 5.2, 0.5,
     0.2, 0, 0, 0, 0, 0, 0, 0, 0.3, 0,
     0, 0, 0, 0, 0, 0, 0, 0, 0, 0],
    [0, 0, 0, 0, 0, 0, 0, 0, 0, 0,
     0, 0, 0, 0, 0, 0, 0, 0, 0, 0,
     0, 0, 0, 0, 0, 0, 0, 0, 0, 0,
     0, 0, 0, 0, 0, 0, 0, 0, 0.3, 2.6,
     0.3, 5.6, 6.7, 0.5, 0.2, 0.1, 0, 0, 0, 0,
     0, 0, 0, 0, 0, 0, 0, 0, 0, 0],
    [0, 0, 0, 0, 0, 0, 0, 0, 0, 0,
     0, 0, 0, 0, 0, 0, 0, 0, 0, 0,
     0, 0, 0, 0, 0, 0, 0, 0, 0, 0,
     0, 0, 0.3, 0.8, 0.5, 1.4, 0.6, 0.2, 0, 0,
     0, 0, 0, 0, 0, 0, 0, 0, 0, 0,
     0, 0, 0, 0, 0, 0, 0, 0, 0, 0],
    [0, 0, 0, 0, 0, 0, 0, 0, 0, 0,
     0, 0, 0, 0, 0, 0, 0, 0, 0, 0,
     0, 0, 0, 0, 0, 0, 0, 0, 0, 0,
     0, 0, 0, 0, 0, 0, 0, 0, 0, 0,
     0.5, 1.0, 1.2, 0.5, 0.2, 0, 0.8, 1.2, 0.8, 0.7,
     0.2, 0, 0, 0, 0, 0, 0, 0, 0, 0],
    [0, 0, 0, 0, 0, 0, 0, 0, 0, 0,
     0, 0, 0, 0, 0, 0, 0, 0, 0, 0,
     0, 0, 0, 0, 0, 0, 0, 0, 0, 0,
     0, 0, 0, 0, 0, 0, 0, 0, 0, 0,
     0, 0, 0, 0, 0, 0, 0, 0, 0, 0,
     0.3, 0.6, 0.2, 0, 1.2, 1.6, 1.0, 0.3, 0.1, 0],
    [0, 0, 0, 0, 0, 0, 0, 0, 0, 0,
     0, 0, 0, 0, 0, 0, 0, 0, 0, 0,
     0, 0, 0, 0, 0, 0, 0, 0, 0, 0,
     0, 0, 0, 0, 0, 0, 0, 0, 0, 0,
     0, 0, 0, 0, 0, 0, 0, 0, 0, 0,
     0, 0, 0, 0, 0, 0.2, 0.8, 1.9, 0.5, 2.3],
    [0, 0, 0, 0, 0, 0, 0, 0, 0, 0,
     0, 0, 0, 0, 0, 0, 0, 0, 0, 0,
     0, 0, 0, 0, 0, 0, 0, 0, 0, 0,
     0, 0, 0, 0, 0, 0, 0.2, 0.8, 1.4, 0.3,
     0, 0, 0, 0, 0.5, 0.8, 1.1, 0.6, 0.2, 0,
     0, 0, 0, 0, 0, 0, 0, 0, 0, 0],
    [0, 0, 0, 0, 0, 0, 0, 0, 0, 0,
     0, 0, 0, 0, 0, 0, 0, 0, 0, 0,
     0, 0, 0, 0, 0, 0, 0, 0, 0.1, 0.1,
     0.1, 0.1, 0.2, 0.1, 0.3, 0.1, 0.1, 0.2, 0.1, 0.1,
     0.2, 0.1, 0.1, 0.1, 0.2, 0.6, 0.2, 0.1, 0.1, 0.1,
     0.1, 0.1, 0.2, 0.1, 0.1, 0.1, 0.1, 0.1, 0.1, 0.1],
]
SNOW_WARNING = [5]

PANELS = [
    dict(label="Neerslag/6 uur", ytitle="mm", yrange=[0, 20], dtick=5,
         members=PRECIP_MEMBERS, mstep=STEP_6H, control=PRECIP_CONTROL,
         oper=PRECIP_OPER, mean=PRECIP_MEAN, dotted=PRECIP_DOTTED, warn=[]),
    dict(label="Accum Neerslag", ytitle="mm", yrange=[0, 70], dtick=10,
         members=ACCUM_MEMBERS, mstep=STEP_12H, control=ACCUM_CONTROL,
         oper=ACCUM_OPER, mean=ACCUM_MEAN, dotted=[], warn=[]),
    dict(label="10m wind", ytitle="m/s", yrange=[0, 20], dtick=5,
         members=WIND_MEMBERS, mstep=STEP_6H, control=WIND_CONTROL,
         oper=WIND_OPER, mean=WIND_MEAN, dotted=WIND_DOTTED, warn=[]),
    dict(label="Windstoten", ytitle="m/s", yrange=[0, 35], dtick=5,
         members=GUST_MEMBERS, mstep=STEP_6H, control=GUST_CONTROL,
         oper=GUST_OPER, mean=GUST_MEAN, dotted=GUST_DOTTED, warn=GUST_WARNING),
    dict(label="T2m", ytitle="Celsius", yrange=[-10, 20], dtick=5,
         members=T2M_MEMBERS, mstep=STEP_6H, control=T2M_CONTROL,
         oper=T2M_OPER, mean=T2M_MEAN, dotted=[], warn=[], zero=True),
    dict(label="Sneeuwval/6 uur", ytitle="cm", yrange=[0, 8], dtick=1,
         members=SNOW_MEMBERS, mstep=STEP_6H, control=SNOW_CONTROL,
         oper=SNOW_OPER, mean=SNOW_MEAN, dotted=[], warn=SNOW_WARNING),
]

MEMBER_COLORS = ["#78b446", "#92c46c"]
CONTROL_COLOR = "#0000ff"
OPER_COLOR = "#ff0000"
MEAN_COLOR = "#7a1200"
FRAME_COLOR = "#3c3cff"

FIG_W, FIG_H = W - OFF, H - OFF


def px(x):
    """Screen x (px from the window's left) -> paper fraction."""
    return (x - OFF) / FIG_W


def py(y):
    """Screen y (px from the window's top) -> paper fraction."""
    return 1 - (y - OFF) / FIG_H


def times(values, step):
    return [step * (i + 1) for i in range(len(values))]


# day name at 12 UTC on the main axis, small "00" at midnight on a twin axis
day_ticks = list(range(len(DAY_LABELS)))
midnight_ticks = [d + STEP_12H for d in range(len(DAY_LABELS) - 1)]

fig = go.Figure()
layout = dict(
    width=FIG_W, height=FIG_H, margin=dict(l=0, r=0, t=0, b=0),
    paper_bgcolor="white", plot_bgcolor="white", showlegend=False,
    font=dict(family=FONT, size=10, color="black"),
)
shapes, annotations = [], []

for k, p in enumerate(PANELS):
    n = k + 1
    col, row = k % 2, k // 2
    ox, oy = 388 * col, 184 * row
    x0, x1 = ox + 32.3, ox + 358.3
    yt, yb = oy + 18.3, oy + 156.3
    xa = "x" if n == 1 else f"x{n}"
    ya = "y" if n == 1 else f"y{n}"
    xm = f"x{n + 6}"

    layout["xaxis" if n == 1 else f"xaxis{n}"] = dict(
        domain=[px(x0), px(x1)], anchor=ya, range=[0, 15],
        tickmode="array", tickvals=day_ticks, ticktext=DAY_LABELS,
        ticks="outside", ticklen=3, tickcolor="#555", ticklabelstandoff=-2,
        minor=dict(tickmode="linear", tick0=0, dtick=STEP_6H, ticks="outside",
                   ticklen=3, tickcolor="#555", showgrid=False),
        showline=True, linecolor="black", linewidth=1,
        showgrid=False, zeroline=False, tickfont=dict(size=9.5), tickangle=0,
    )
    layout[f"xaxis{n + 6}"] = dict(
        domain=[px(x0), px(x1)], overlaying=xa, anchor=ya, side="bottom",
        range=[0, 15], tickmode="array", tickvals=midnight_ticks,
        ticktext=[MIDNIGHT_LABEL] * len(midnight_ticks), ticks="",
        showline=False, showgrid=False, zeroline=False,
        tickfont=dict(size=6.5), tickangle=0,
    )
    layout["yaxis" if n == 1 else f"yaxis{n}"] = dict(
        domain=[py(yb), py(yt)], anchor=xa, range=p["yrange"], dtick=p["dtick"],
        ticks="outside", ticklen=3, tickcolor="#555", showline=True,
        linecolor="black", linewidth=1, showgrid=False,
        zeroline=p.get("zero", False), zerolinecolor="black", zerolinewidth=3,
        tickfont=dict(size=10),
    )
    layout[f"yaxis{n + 6}"] = dict(
        overlaying=ya, anchor=xa, side="right", range=p["yrange"],
        dtick=p["dtick"], ticks="outside", ticklen=3, tickcolor="#808080",
        showline=True, linecolor="#808080", linewidth=2, showgrid=False,
        zeroline=False, tickfont=dict(size=10),
    )

    # empty trace so that the "00" twin axis gets drawn
    fig.add_trace(go.Scatter(x=[None], y=[None], mode="lines", xaxis=xm,
                             yaxis=ya, hoverinfo="skip"))

    # ensemble members
    for j, m in enumerate(p["members"]):
        fig.add_trace(go.Scatter(
            x=times(m, p["mstep"]), y=m, mode="lines", xaxis=xa, yaxis=ya,
            line=dict(color=MEMBER_COLORS[j % 2], width=1.1), hoverinfo="skip"))
    fig.add_trace(go.Scatter(
        x=times(p["control"], STEP_6H), y=p["control"], mode="lines",
        xaxis=xa, yaxis=ya, name="Control",
        line=dict(color=CONTROL_COLOR, width=1.5, dash="5px,3px")))
    fig.add_trace(go.Scatter(
        x=times(p["oper"], STEP_6H), y=p["oper"], mode="lines",
        xaxis=xa, yaxis=ya, name="Oper",
        line=dict(color=OPER_COLOR, width=1.5)))
    fig.add_trace(go.Scatter(
        x=times(p["mean"], STEP_6H), y=p["mean"], mode="lines",
        xaxis=xa, yaxis=ya, name="Ens mn",
        line=dict(color=MEAN_COLOR, width=2.6, dash="dot")))

    # threshold lines
    for v in p["dotted"]:
        shapes.append(dict(type="line", xref=f"{xa} domain", yref=ya,
                           x0=0, x1=1, y0=v, y1=v,
                           line=dict(color="black", width=1, dash="dot")))
    for v in p["warn"]:
        shapes.append(dict(type="line", xref=f"{xa} domain", yref=ya,
                           x0=0, x1=1, y0=v, y1=v,
                           line=dict(color="#ff33ff", width=1.6, dash="5px,3px")))

    # hand-drawn legend in the upper left corner
    leg = [("Control", CONTROL_COLOR, 1.5, "4px,2px", 80),
           ("Oper", OPER_COLOR, 1.5, "solid", 82),
           ("Ens mn", MEAN_COLOR, 2.4, "dot", 80)]
    for r, (txt, colr, lw, dash, cx) in enumerate(leg):
        ly = oy + 24.5 + 6.7 * r
        shapes.append(dict(type="line", xref="paper", yref="paper",
                           x0=px(ox + 35), x1=px(ox + 57), y0=py(ly), y1=py(ly),
                           line=dict(color=colr, width=lw, dash=dash)))
        annotations.append(dict(text=txt, x=px(ox + cx), y=py(ly + 0.8),
                                xref="paper", yref="paper", showarrow=False,
                                xanchor="center", yanchor="middle",
                                font=dict(size=8)))

    # titles and labels
    annotations += [
        dict(text=TITLE, x=px((x0 + x1) / 2), y=py(oy + 7.5), xref="paper",
             yref="paper", showarrow=False, xanchor="center", yanchor="middle",
             font=dict(size=11)),
        dict(text=STATION, x=px(ox + 320), y=py(oy + 24), xref="paper",
             yref="paper", showarrow=False, xanchor="center", yanchor="middle",
             font=dict(size=10.5)),
        dict(text=p["label"], x=px(ox + 320), y=py(oy + 34.5), xref="paper",
             yref="paper", showarrow=False, xanchor="center", yanchor="middle",
             font=dict(size=10.5)),
        dict(text="<b>Dag</b>", x=px(ox + 190.7), y=py(oy + 176.5), xref="paper",
             yref="paper", showarrow=False, xanchor="center", yanchor="middle",
             font=dict(size=12.5)),
        dict(text=f"<b>{SOURCE}</b>", x=px(ox + 370), y=py(oy + 176),
             xref="paper", yref="paper", showarrow=False, xanchor="right",
             yanchor="middle", font=dict(size=7, color="#0000ee")),
        dict(text=f"<b>{p['ytitle']}</b>", x=px(ox + 12.7), y=py((yt + yb) / 2),
             xref="paper", yref="paper", showarrow=False, textangle=-90,
             xanchor="center", yanchor="middle", font=dict(size=12)),
    ]

# blue frame lines between the panels and along the right and bottom edges
frame = dict(color=FRAME_COLOR, width=1)
shapes += [
    dict(type="line", xref="paper", yref="paper", x0=px(W - 0.5), x1=px(W - 0.5),
         y0=0, y1=1, line=frame),
    dict(type="line", xref="paper", yref="paper", x0=0, x1=1,
         y0=py(H - 0.5), y1=py(H - 0.5), line=frame),
    dict(type="line", xref="paper", yref="paper", x0=px(388.5), x1=px(388.5),
         y0=0, y1=1, line=frame),
    dict(type="line", xref="paper", yref="paper", x0=0, x1=1,
         y0=py(184), y1=py(184), line=frame),
    dict(type="line", xref="paper", yref="paper", x0=0, x1=1,
         y0=py(368), y1=py(368), line=frame),
]

layout["shapes"] = shapes
layout["annotations"] = annotations
fig.update_layout(**layout)

fig.write_html("out.html")
